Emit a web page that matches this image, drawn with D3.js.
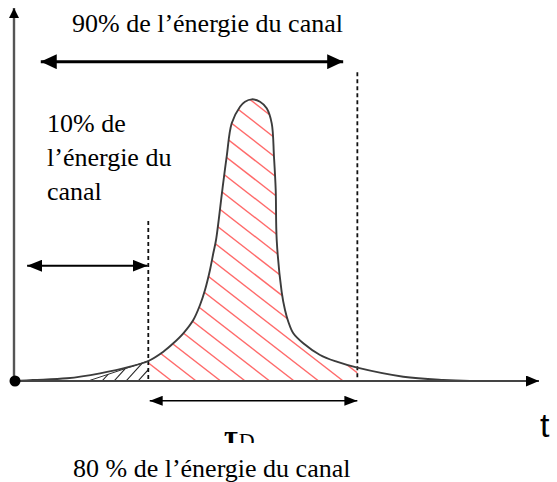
<!DOCTYPE html>
<html><head><meta charset="utf-8">
<script src="https://cdn.jsdelivr.net/npm/d3@7"></script>
<style>html,body{margin:0;padding:0;background:#fff;}svg{display:block;}</style>
</head><body>
<svg id="chart" width="557" height="482"></svg>
<script>
// ---- data (time in arbitrary units, amplitude normalised to peak = 1) ----
const timeT = [0, 0.362, 1.010, 1.638, 2.210, 2.558, 2.844, 3.034, 3.225, 3.415, 3.543, 3.638, 3.733, 3.796, 3.848, 3.968, 4.051, 4.147, 4.305, 4.400, 4.528, 4.686, 4.813, 4.909, 4.952, 4.985, 5.004, 5.099, 5.162, 5.225, 5.320, 5.510, 5.829, 6.147, 6.539, 7.415, 8.171, 8.686, 10];
const amplitude = [0, 0.0035, 0.0096, 0.0272, 0.0506, 0.0708, 0.1037, 0.1334, 0.1688, 0.2159, 0.2689, 0.3220, 0.3928, 0.4519, 0.4990, 0.6759, 0.7938, 0.9119, 0.9707, 0.9884, 0.9968, 0.9884, 0.9650, 0.9119, 0.7937, 0.6759, 0.4990, 0.3149, 0.2513, 0.2098, 0.1688, 0.1334, 0.0920, 0.0683, 0.0471, 0.0152, 0.0035, 0, 0];
const boundT = [2.558, 6.54];          // 10 % and 90 % energy instants
const boundTop = [0.566, 1.093];       // top of the dashed markers
const spanTop = [0.51, 6.27], spanTopV = 1.13;    // 90 % arrow
const spanLeft = [0.25, 2.545], spanLeftV = 0.408; // 10 % arrow
const spanBot = [2.585, 6.54], spanBotV = -0.07;   // tau_D arrow
const labelTop = "90% de l\u2019énergie du canal";
const labelLeft = ["10% de", "l\u2019énergie du", "canal"];
const labelBottom = "80 % de l\u2019énergie du canal";
const axisLabel = "t";

const svg = d3.select("#chart");
const x = d3.scaleLinear().domain([0, 10]).range([14, 539]);
const y = d3.scaleLinear().domain([0, 1.32]).range([381, 8]);
const pts = timeT.map((t, i) => [t, amplitude[i]]);
const curve = d3.curveCatmullRom.alpha(0.5);

const defs = svg.append("defs");
function marker(id, len, half) {
  defs.append("marker").attr("id", id).attr("viewBox", `0 0 ${len} ${2*half}`)
    .attr("refX", len).attr("refY", half).attr("markerWidth", len).attr("markerHeight", 2*half)
    .attr("markerUnits", "userSpaceOnUse").attr("orient", "auto-start-reverse")
    .append("path").attr("d", `M0,0L${len},${half}L0,${2*half}Z`).attr("fill", "#000");
}
marker("mTop", 16, 7.5);
marker("mLeft", 15, 6);
marker("mBot", 13, 5);
marker("mAxX", 13, 5.5);
marker("mAxY", 10, 5);

// clip paths
const areaGen = d3.area().x(d => x(d[0])).y0(y(0)).y1(d => y(d[1])).curve(curve);
defs.append("clipPath").attr("id", "under").append("path").attr("d", areaGen(pts));
defs.append("clipPath").attr("id", "band").append("rect")
  .attr("x", x(boundT[0])).attr("y", 0).attr("width", x(boundT[1]) - x(boundT[0])).attr("height", y(0));
// black chord region (left tail)
const chordStart = 1.41;
const curveAt = t => { const i = d3.bisectLeft(timeT, t); const t0 = timeT[i-1], t1 = timeT[i]; return amplitude[i-1] + (amplitude[i]-amplitude[i-1])*(t-t0)/(t1-t0); };
const chordEnd = [boundT[0], curveAt(boundT[0])];
defs.append("clipPath").attr("id", "tail").append("path")
  .attr("d", `M${x(chordStart)},${y(0)}L${x(chordEnd[0])},${y(chordEnd[1])}L${x(chordEnd[0])},${y(0)}Z`);

// red hatching
const hatch = svg.append("g").attr("clip-path", "url(#band)").append("g").attr("clip-path", "url(#under)");
const slope = 0.776, step = 24.5, phase = x(boundT[0]) + 23.4;
for (let k = -2; k < 22; k++) {
  const x0 = phase + k * step;
  hatch.append("line").attr("x1", x0).attr("y1", y(0)).attr("x2", x0 - 420).attr("y2", y(0) - slope * 420)
    .attr("stroke", "#ff5050").attr("stroke-opacity", 0.85).attr("stroke-width", 1.4);
}
// black hatching in the tail
const tailG = svg.append("g").attr("clip-path", "url(#tail)");
for (let k = 0; k < 6; k++) {
  const x0 = 90 + k * 12;
  tailG.append("line").attr("x1", x0).attr("y1", y(0)).attr("x2", x0 + 40).attr("y2", y(0) - 44)
    .attr("stroke", "#222").attr("stroke-width", 1.1);
}
svg.append("line").attr("x1", x(chordStart)).attr("y1", y(0)).attr("x2", x(chordEnd[0])).attr("y2", y(chordEnd[1]))
  .attr("stroke", "#333").attr("stroke-width", 1);

// dashed markers
boundT.forEach((t, i) => {
  svg.append("line").attr("x1", x(t)).attr("x2", x(t)).attr("y1", y(boundTop[i])).attr("y2", y(0))
    .attr("stroke", "#111").attr("stroke-width", 1.8).attr("stroke-dasharray", "4,3");
});

// pulse curve
svg.append("path").attr("d", d3.line().x(d => x(d[0])).y(d => y(d[1])).curve(curve)(pts))
  .attr("fill", "none").attr("stroke", "#3c3c3c").attr("stroke-width", 1.9);

// axes
svg.append("line").attr("x1", x(0)).attr("y1", y(0)).attr("x2", x(10)).attr("y2", y(0))
  .attr("stroke", "#444").attr("stroke-width", 2).attr("marker-end", "url(#mAxX)");
svg.append("line").attr("x1", x(0)).attr("y1", y(0)).attr("x2", x(0)).attr("y2", y(1.32))
  .attr("stroke", "#555").attr("stroke-width", 2.4).attr("marker-end", "url(#mAxY)");
svg.append("circle").attr("cx", x(0) + 1).attr("cy", y(0)).attr("r", 5.5).attr("fill", "#000");

// double arrows
function dbl(span, v, w, m) {
  svg.append("line").attr("x1", x(span[0])).attr("x2", x(span[1])).attr("y1", y(v)).attr("y2", y(v))
    .attr("stroke", "#000").attr("stroke-width", w)
    .attr("marker-start", `url(#${m})`).attr("marker-end", `url(#${m})`);
}
dbl(spanTop, spanTopV, 3, "mTop");
dbl(spanLeft, spanLeftV, 2, "mLeft");
dbl(spanBot, spanBotV, 1.6, "mBot");

// texts
const serif = "Liberation Serif, Times New Roman, serif";
svg.append("text").attr("x", 72).attr("y", 32).style("font-family", serif).attr("font-size", 26).text(labelTop);
labelLeft.forEach((s, i) => svg.append("text").attr("x", 47).attr("y", 132 + i * 34)
  .style("font-family", serif).attr("font-size", 26).text(s));
svg.append("text").attr("x", 73).attr("y", 476.5).style("font-family", serif).attr("font-size", 26).text(labelBottom);
svg.append("text").attr("x", 540).attr("y", 437).style("font-family", "Liberation Sans, Arial, sans-serif")
  .attr("font-size", 34).text(axisLabel);
defs.append("clipPath").attr("id", "tauclip").append("rect").attr("x", 200).attr("y", 420).attr("width", 100).attr("height", 23);
const tau = svg.append("text").attr("clip-path", "url(#tauclip)").attr("x", 224).attr("y", 446)
  .style("font-family", serif).attr("font-weight", "bold").attr("font-size", 30);
tau.append("tspan").text("\u03c4");
tau.append("tspan").attr("font-size", 22).attr("font-weight", "normal").attr("dx", 1).attr("dy", 2).text("D");
</script>
</body></html>
